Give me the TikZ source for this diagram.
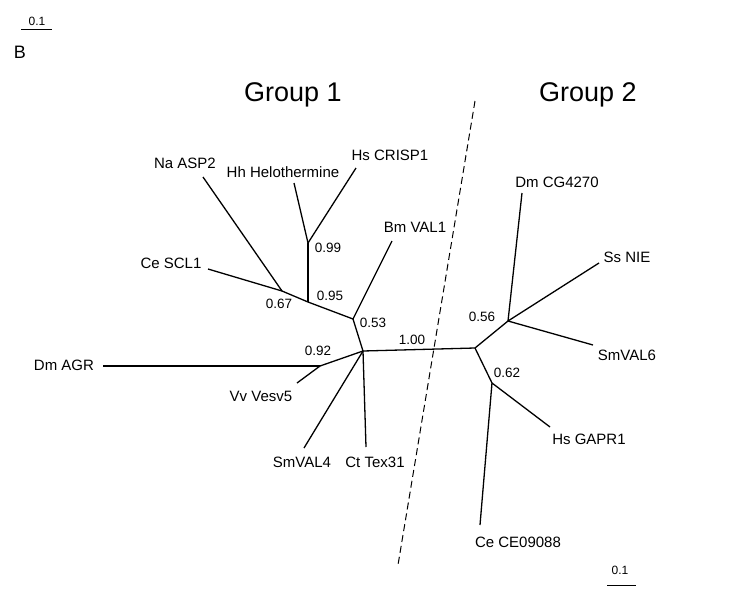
\documentclass[tikz,border=0pt]{standalone}
\usepackage{fontspec}
\setmainfont{Liberation Sans}
\usetikzlibrary{positioning}

\tikzset{
  branch/.style={line width=1.3pt},
  leaf/.style={font=\fontsize{15}{17}\selectfont, inner sep=0pt},
  support/.style={font=\fontsize{13.5}{15}\selectfont, inner sep=0pt},
  grouplabel/.style={font=\fontsize{27}{30}\selectfont, inner sep=0pt},
  scalelabel/.style={font=\fontsize{12}{14}\selectfont, inner sep=0pt}
}

\begin{document}
\begin{tikzpicture}[x=1pt,y=-1pt]

% white background fixing the page size
\useasboundingbox (0,0) rectangle (734,592);

% panel letter and scale bar at top left
\node[leaf, font=\fontsize{18}{20}\selectfont] (panel) at (20,52) {B};
\coordinate (sbla) at (21,29);
\coordinate (sblb) at (52,29);
\draw[line width=1pt] (sbla) -- (sblb);
\node[scalelabel] (sbltext) at (37,21) {0.1};

% group titles
\node[grouplabel] (gone) at (293,95) {Group 1};
\node[grouplabel] (gtwo) at (588,95) {Group 2};

% dashed separator
\coordinate (septop) at (475,101);
\coordinate (sepbot) at (398,565);
\draw[line width=1pt, dash pattern=on 7pt off 4pt] (septop) -- (sepbot);

% internal nodes
\coordinate (ncenter) at (363,351);
\coordinate (nright)  at (475,348);
\coordinate (nfivethree) at (353,319);
\coordinate (nninefive) at (308,302);
\coordinate (nsixseven) at (282,291);
\coordinate (nninenine) at (308,243);
\coordinate (nninetwo) at (320,366);
\coordinate (nfivesix) at (508,321);
\coordinate (nsixtwo) at (492,383);

% leaf ends
\coordinate (lnaasp) at (203,177);
\coordinate (lcescl) at (208,269);
\coordinate (lhhhel) at (294,183);
\coordinate (lhscrisp) at (356,168);
\coordinate (lbmval) at (392,241);
\coordinate (ldmagr) at (103,366);
\coordinate (lvvves) at (297,383);
\coordinate (lsmvalfour) at (304,448);
\coordinate (ltex) at (366,447);
\coordinate (ldmcg) at (522,193);
\coordinate (lssnie) at (599,263);
\coordinate (lsmvalsix) at (593,345);
\coordinate (lhsgapr) at (550,427);
\coordinate (lcece) at (480,525);

% group 1 branches
\draw[branch] (ncenter) -- (nright);
\draw[branch] (ncenter) -- (nfivethree);
\draw[branch] (nfivethree) -- (lbmval);
\draw[branch] (nfivethree) -- (nninefive);
\draw[branch] (nninefive) -- (nsixseven);
\draw[branch] (nsixseven) -- (lcescl);
\draw[branch] (nsixseven) -- (lnaasp);
\draw[branch] (nninefive) -- (nninenine);
\draw[branch] (nninenine) -- (lhhhel);
\draw[branch] (nninenine) -- (lhscrisp);
\draw[branch] (ncenter) -- (nninetwo);
\draw[branch] (nninetwo) -- (ldmagr);
\draw[branch] (nninetwo) -- (lvvves);
\draw[branch] (ncenter) -- (lsmvalfour);
\draw[branch] (ncenter) -- (ltex);

% group 2 branches
\draw[branch] (nright) -- (nfivesix);
\draw[branch] (nfivesix) -- (ldmcg);
\draw[branch] (nfivesix) -- (lssnie);
\draw[branch] (nfivesix) -- (lsmvalsix);
\draw[branch] (nright) -- (nsixtwo);
\draw[branch] (nsixtwo) -- (lhsgapr);
\draw[branch] (nsixtwo) -- (lcece);

% leaf labels
\node[leaf] (tnaasp) at (185,163) {Na ASP2};
\node[leaf] (thhhel) at (283,172) {Hh Helothermine};
\node[leaf] (thscrisp) at (390,155) {Hs CRISP1};
\node[leaf] (tbmval) at (415,227) {Bm VAL1};
\node[leaf] (tcescl) at (171,263) {Ce SCL1};
\node[leaf] (tdmagr) at (64,365) {Dm AGR};
\node[leaf] (tvvves) at (261,396) {Vv Vesv5};
\node[leaf] (tsmvalfour) at (302,462) {SmVAL4};
\node[leaf] (ttex) at (375,462) {Ct Tex31};
\node[leaf] (tdmcg) at (557,182) {Dm CG4270};
\node[leaf] (tssnie) at (627,257) {Ss NIE};
\node[leaf] (tsmvalsix) at (627,355) {SmVAL6};
\node[leaf] (thsgapr) at (589,439) {Hs GAPR1};
\node[leaf] (tcece) at (518,542) {Ce CE09088};

% support values
\node[support] (sninenine) at (328,248) {0.99};
\node[support] (sninefive) at (330,296) {0.95};
\node[support] (ssixseven) at (279,304) {0.67};
\node[support] (sfivethree) at (373,323) {0.53};
\node[support] (sonezero) at (412,340) {1.00};
\node[support] (sninetwo) at (318,351) {0.92};
\node[support] (sfivesix) at (482,317) {0.56};
\node[support] (ssixtwo) at (507,373) {0.62};

% scale bar at bottom right
\coordinate (sbra) at (607,585);
\coordinate (sbrb) at (636,585);
\draw[line width=1pt] (sbra) -- (sbrb);
\node[scalelabel] (sbrtext) at (620,570) {0.1};

\end{tikzpicture}
\end{document}
